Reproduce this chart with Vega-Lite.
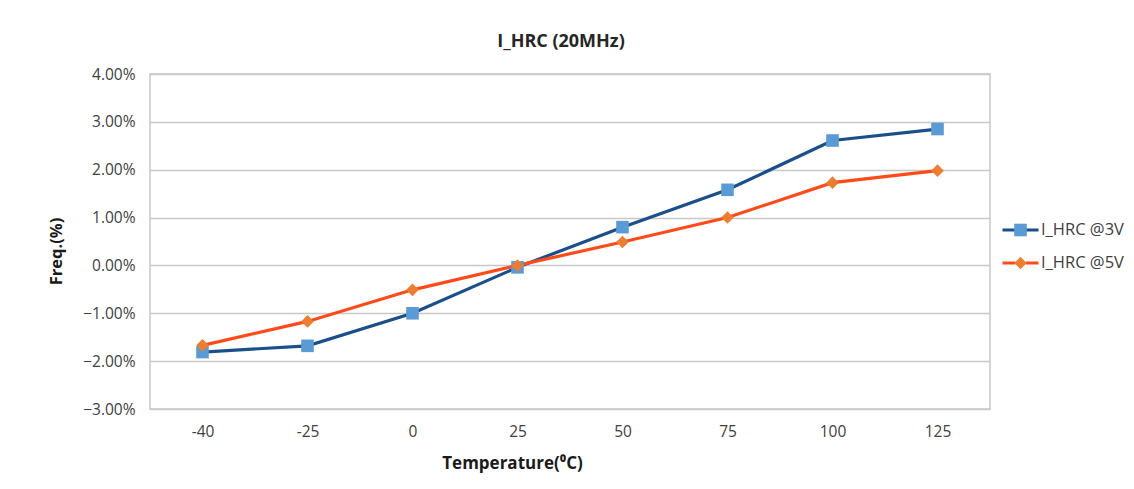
{
  "$schema": "https://vega.github.io/schema/vega-lite/v6.json",
  "width": 840,
  "height": 335,
  "autosize": "none",
  "padding": {"left": 150, "top": 74, "right": 144, "bottom": 80},
  "background": "white",
  "title": {
    "text": "I_HRC (20MHz)",
    "font": "Open Sans",
    "fontSize": 18,
    "fontWeight": "bold",
    "color": "#262626",
    "anchor": "middle",
    "dx": -9,
    "offset": 16
  },
  "config": {
    "view": {"stroke": "#c8c8c8", "strokeWidth": 1.5},
    "font": "Open Sans"
  },
  "data": {
    "values": [
      {"temp": -40, "series": "I_HRC @3V", "v": -0.0181},
      {"temp": -25, "series": "I_HRC @3V", "v": -0.0168},
      {"temp": 0, "series": "I_HRC @3V", "v": -0.0100},
      {"temp": 25, "series": "I_HRC @3V", "v": -0.0004},
      {"temp": 50, "series": "I_HRC @3V", "v": 0.0080},
      {"temp": 75, "series": "I_HRC @3V", "v": 0.0158},
      {"temp": 100, "series": "I_HRC @3V", "v": 0.0261},
      {"temp": 125, "series": "I_HRC @3V", "v": 0.0285},
      {"temp": -40, "series": "I_HRC @5V", "v": -0.0167},
      {"temp": -25, "series": "I_HRC @5V", "v": -0.0117},
      {"temp": 0, "series": "I_HRC @5V", "v": -0.0051},
      {"temp": 25, "series": "I_HRC @5V", "v": 0.0000},
      {"temp": 50, "series": "I_HRC @5V", "v": 0.0049},
      {"temp": 75, "series": "I_HRC @5V", "v": 0.0100},
      {"temp": 100, "series": "I_HRC @5V", "v": 0.0173},
      {"temp": 125, "series": "I_HRC @5V", "v": 0.0198}
    ]
  },
  "encoding": {
    "x": {
      "field": "temp",
      "type": "ordinal",
      "scale": {"type": "point", "padding": 0.5},
      "axis": {
        "title": "Temperature(⁰C)",
        "titleFont": "Open Sans",
        "titleFontSize": 17,
        "titleFontWeight": "bold",
        "titleColor": "#1a1a1a",
        "titleX": 362,
        "titleY": 54,
        "titleAlign": "center",
        "titleBaseline": "middle",
        "labelAngle": 0,
        "labelFont": "Open Sans",
        "labelFontSize": 15.5,
        "labelColor": "#404040",
        "labelPadding": 22,
        "labelBaseline": "middle",
        "ticks": false,
        "domain": false,
        "grid": false
      }
    },
    "y": {
      "field": "v",
      "type": "quantitative",
      "scale": {"domain": [-0.03, 0.04], "nice": false, "zero": false},
      "axis": {
        "title": "Freq.(%)",
        "titleFont": "Open Sans",
        "titleFontSize": 16.5,
        "titleFontWeight": "bold",
        "titleColor": "#1a1a1a",
        "titleX": -94,
        "titleY": 177,
        "titleAlign": "center",
        "titleBaseline": "middle",
        "titleAngle": -90,
        "values": [-0.03, -0.02, -0.01, 0, 0.01, 0.02, 0.03, 0.04],
        "format": ".2%",
        "labelFont": "Open Sans",
        "labelFontSize": 15.5,
        "labelColor": "#404040",
        "labelPadding": 15,
        "ticks": false,
        "domain": false,
        "grid": true,
        "gridColor": "#c8c8c8",
        "gridWidth": 1.5
      }
    }
  },
  "layer": [
    {
      "mark": {"type": "line", "strokeWidth": 3.2},
      "encoding": {
        "stroke": {
          "field": "series",
          "type": "nominal",
          "scale": {"domain": ["I_HRC @3V", "I_HRC @5V"], "range": ["#1a4f8b", "#ff4b1a"]},
          "legend": {
            "orient": "none",
            "legendX": 851,
            "legendY": 146,
            "title": null,
            "symbolType": "M-1,0H-0.3M0.3,0H1",
            "symbolSize": 1296,
            "symbolStrokeWidth": 3,
            "clipHeight": 20,
            "rowPadding": 13,
            "labelOffset": 1,
            "labelFont": "Open Sans",
            "labelFontSize": 16.5,
            "labelColor": "transparent"
          }
        }
      }
    },
    {
      "mark": {"type": "point", "filled": true, "opacity": 1, "size": 1296},
      "encoding": {
        "fill": {
          "field": "series",
          "type": "nominal",
          "scale": {"range": ["#5b9bd5", "#ed7d31"]},
          "legend": {
            "orient": "none",
            "legendX": 851,
            "legendY": 146,
            "title": null,
            "symbolSize": 1296,
            "symbolStrokeWidth": 3,
            "symbolStrokeColor": "transparent",
            "clipHeight": 20,
            "rowPadding": 13,
            "labelOffset": 1,
            "labelFont": "Open Sans",
            "labelFontSize": 16.5,
            "labelColor": "#404040"
          }
        },
        "shape": {
          "field": "series",
          "type": "nominal",
          "scale": {"range": ["M-0.35,-0.35H0.35V0.35H-0.35Z", "M0,-0.35L0.35,0L0,0.35L-0.35,0Z"]},
          "legend": {
            "orient": "none",
            "legendX": 851,
            "legendY": 146,
            "title": null,
            "symbolSize": 1296,
            "symbolStrokeWidth": 3,
            "symbolStrokeColor": "transparent",
            "clipHeight": 20,
            "rowPadding": 13,
            "labelOffset": 1,
            "labelFont": "Open Sans",
            "labelFontSize": 16.5,
            "labelColor": "#404040"
          }
        }
      }
    }
  ]
}
